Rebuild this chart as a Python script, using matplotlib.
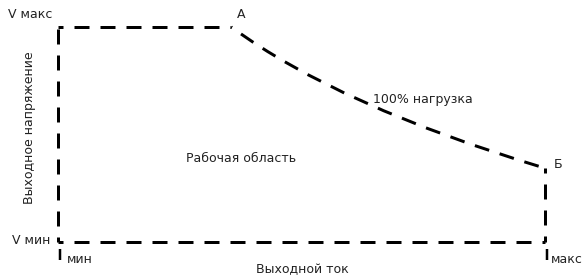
import matplotlib
matplotlib.use("Agg")
import matplotlib.pyplot as plt
from matplotlib.path import Path
from matplotlib.patches import PathPatch

# Data (current %, voltage %) -------------------------------------------
left_current = [0, 0]
left_voltage = [0, 100]
top_current = [0, 35.6]
top_voltage = [100, 100]
# 100% load curve: start (A), control point, end (Б) of a quadratic curve
load_current = [35.6, 57.9, 100]
load_voltage = [100, 63.0, 34.4]
right_current = [100, 100]
right_voltage = [34.4, 0]
bottom_current = [0, 100]
bottom_voltage = [0, 0]
tick_positions = [0, 100]
tick_labels = ["мин", "макс"]

plt.rcParams['font.family'] = ['DejaVu Sans']
plt.rcParams['lines.scale_dashes'] = False

W, H = 587, 279
fig = plt.figure(figsize=(W / 100, H / 100), dpi=100)
ax = fig.add_axes([58 / W, (H - 242) / H, 489 / W, 215 / H])
ax.set_xlim(0, 100)
ax.set_ylim(0, 100)

px = 0.72  # points per pixel
on, off = 15 * px, 11 * px
ls = (10 * px, (on, off))
kw = dict(color="black", lw=3 * px, linestyle=ls, clip_on=False,
          solid_capstyle="butt", dash_capstyle="butt")

ax.plot(left_current, left_voltage, **kw)
ax.plot(top_current, top_voltage, **kw)
ax.plot(right_current, right_voltage, **kw)
ax.plot(bottom_current, bottom_voltage, **kw)

curve = Path(list(zip(load_current, load_voltage)),
             [Path.MOVETO, Path.CURVE3, Path.CURVE3])
ax.add_patch(PathPatch(curve, facecolor="none", edgecolor="black", lw=3 * px,
                       linestyle=(14 * px, (on, off)), clip_on=False, capstyle="butt"))

for s in ax.spines.values():
    s.set_visible(False)
ax.spines['bottom'].set_position(('outward', 7 * px))
ax.set_xticks([t + 0.5 for t in tick_positions])
ax.set_xticklabels([])
ax.tick_params(axis='x', direction='out', length=11 * px, width=2.5 * px, color='black')
ax.set_yticks([])

tc = "#222222"
fs = 9
ax.text(0.0 + 1.9, -8.0, tick_labels[0], fontsize=fs, color=tc, ha="left", va="center")
ax.text(100 + 1.3, -8.0, tick_labels[1], fontsize=fs, color=tc, ha="left", va="center")

def ptext(x, y, s, **k):
    fig.text(x / W, 1 - y / H, s, fontsize=fs, color=tc, **k)

ptext(52, 15, "V макс", ha="right", va="center")
ptext(50, 240, "V мин", ha="right", va="center")
ptext(241, 15, "А", ha="center", va="center")
ptext(558, 165, "Б", ha="center", va="center")
ptext(423, 99, "100% нагрузка", ha="center", va="center")
ptext(241, 159, "Рабочая область", ha="center", va="center")
ptext(302, 270, "Выходной ток", ha="center", va="center")
ptext(30, 128, "Выходное напряжение", ha="center", va="center", rotation=90)

fig.savefig("out.png", dpi=100)
